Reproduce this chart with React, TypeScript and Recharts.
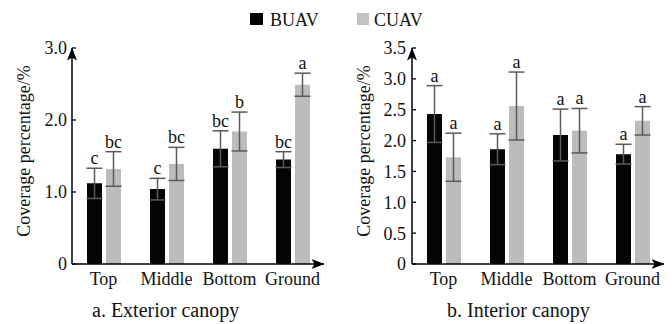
import React from 'react';
import { BarChart, Bar, XAxis, YAxis, ErrorBar, LabelList } from 'recharts';

const categories = ['Top', 'Middle', 'Bottom', 'Ground'];
const seriesNames = ['BUAV', 'CUAV'];
const seriesColors = ['#050505', '#bcbcbc'];

const exteriorBUAV = [1.12, 1.04, 1.6, 1.45];
const exteriorBUAVErr = [0.21, 0.15, 0.25, 0.11];
const exteriorBUAVLetters = ['c', 'c', 'bc', 'bc'];
const exteriorCUAV = [1.32, 1.39, 1.84, 2.49];
const exteriorCUAVErr = [0.24, 0.23, 0.27, 0.16];
const exteriorCUAVLetters = ['bc', 'bc', 'b', 'a'];

const interiorBUAV = [2.43, 1.86, 2.09, 1.78];
const interiorBUAVErr = [0.46, 0.25, 0.42, 0.16];
const interiorBUAVLetters = ['a', 'a', 'a', 'a'];
const interiorCUAV = [1.73, 2.56, 2.16, 2.32];
const interiorCUAVErr = [0.39, 0.55, 0.36, 0.23];
const interiorCUAVLetters = ['a', 'a', 'a', 'a'];

const exteriorTicks = [0, 1, 2, 3];
const exteriorTickLabels = ['0', '1.0', '2.0', '3.0'];
const interiorTicks = [0, 0.5, 1, 1.5, 2, 2.5, 3, 3.5];
const interiorTickLabels = ['0', '0.5', '1.0', '1.5', '2.0', '2.5', '3.0', '3.5'];

const yAxisTitle = 'Coverage percentage/%';
const captions = ['a. Exterior canopy', 'b. Interior canopy'];

const FONT = '"Liberation Serif", "Times New Roman", Times, serif';

function buildRows(b: number[], be: number[], c: number[], ce: number[]) {
  return categories.map((cat, i) => ({ cat, b: b[i], be: be[i], c: c[i], ce: ce[i] }));
}

const exteriorRows = buildRows(exteriorBUAV, exteriorBUAVErr, exteriorCUAV, exteriorCUAVErr);
const interiorRows = buildRows(interiorBUAV, interiorBUAVErr, interiorCUAV, interiorCUAVErr);

function makeLetterLabel(letters: string[], errs: number[]) {
  return (props: any) => {
    const vb = props.viewBox || {};
    const x = props.x ?? vb.x;
    const y = props.y ?? vb.y;
    const width = props.width ?? vb.width;
    const rawH = props.height ?? vb.height;
    const height = Math.abs(rawH);
    const value = Number(props.value);
    const index = props.index;
    if (index == null || !value) return null;
    const top = Math.min(y, y + rawH);
    const pxPerUnit = height / value;
    const errTop = top - errs[index] * pxPerUnit;
    return (
      <text
        x={x + width / 2}
        y={errTop - 4}
        textAnchor="middle"
        fontFamily={FONT}
        fontSize={18}
        fill="#111"
      >
        {letters[index]}
      </text>
    );
  };
}

function makeYTick(ticks: number[], labels: string[], margin: number) {
  return (props: any) => {
    const { x, y, payload } = props;
    const i = ticks.indexOf(payload.value);
    const ax = x + margin;
    return (
      <g>
        <line x1={ax} x2={ax + 4} y1={y} y2={y} stroke="#000" strokeWidth={1.3} />
        <text x={x} y={y} dy="0.36em" textAnchor="end" fontFamily={FONT} fontSize={18} fill="#111">
          {i >= 0 ? labels[i] : payload.value}
        </text>
      </g>
    );
  };
}

const XTick = (props: any) => {
  const { x, y, payload } = props;
  return (
    <text x={x} y={y + 21} textAnchor="middle" fontFamily={FONT} fontSize={18} fill="#111">
      {payload.value}
    </text>
  );
};

type PanelProps = {
  rows: any[];
  ticks: number[];
  tickLabels: string[];
  max: number;
  bLetters: string[];
  cLetters: string[];
  bErr: number[];
  cErr: number[];
  width: number;
  rightMargin: number;
  tickMargin: number;
};

function Panel(p: PanelProps) {
  return (
    <BarChart
      width={p.width}
      height={324}
      data={p.rows}
      margin={{ top: 48, right: p.rightMargin, bottom: 30, left: 0 }}
      barSize={15}
      barGap={4}
    >
      <XAxis
        dataKey="cat"
        height={30}
        tickLine={false}
        tickSize={0}
        tickMargin={0}
        tick={<XTick />}
        interval={0}
        axisLine={{ stroke: '#000', strokeWidth: 1.5, markerEnd: 'url(#axisArrow)' }}
      />
      <YAxis
        width={72}
        domain={[0, p.max]}
        ticks={p.ticks}
        interval={0}
        tickLine={false}
        tickSize={0}
        tickMargin={p.tickMargin}
        tick={makeYTick(p.ticks, p.tickLabels, p.tickMargin)}
        axisLine={{ stroke: '#000', strokeWidth: 1.5, markerStart: 'url(#axisArrow)' }}
      />
      <Bar dataKey="b" name={seriesNames[0]} fill={seriesColors[0]} isAnimationActive={false}>
        <ErrorBar dataKey="be" width={8} stroke="#5a5a5a" strokeWidth={1.5} isAnimationActive={false} />
        <LabelList dataKey="b" content={makeLetterLabel(p.bLetters, p.bErr)} />
      </Bar>
      <Bar dataKey="c" name={seriesNames[1]} fill={seriesColors[1]} isAnimationActive={false}>
        <ErrorBar dataKey="ce" width={8} stroke="#5a5a5a" strokeWidth={1.5} isAnimationActive={false} />
        <LabelList dataKey="c" content={makeLetterLabel(p.cLetters, p.cErr)} />
      </Bar>
    </BarChart>
  );
}

export default function App() {
  return (
    <div style={{ position: 'absolute', left: 0, top: 0, width: 672, height: 324, background: '#fff' }}>
      <div style={{ position: 'absolute', left: 0, top: 0 }}>
        <Panel
          rows={exteriorRows}
          ticks={exteriorTicks}
          tickLabels={exteriorTickLabels}
          max={3}
          bLetters={exteriorBUAVLetters}
          cLetters={exteriorCUAVLetters}
          bErr={exteriorBUAVErr}
          cErr={exteriorCUAVErr}
          width={336}
          rightMargin={12}
          tickMargin={5}
        />
      </div>
      <div style={{ position: 'absolute', left: 340, top: 0 }}>
        <Panel
          rows={interiorRows}
          ticks={interiorTicks}
          tickLabels={interiorTickLabels}
          max={3.5}
          bLetters={interiorBUAVLetters}
          cLetters={interiorCUAVLetters}
          bErr={interiorBUAVErr}
          cErr={interiorCUAVErr}
          width={332}
          rightMargin={8}
          tickMargin={6}
        />
      </div>
      <svg
        width={672}
        height={324}
        style={{ position: 'absolute', left: 0, top: 0, pointerEvents: 'none' }}
      >
        <defs>
          <marker
            id="axisArrow"
            markerUnits="userSpaceOnUse"
            markerWidth={13}
            markerHeight={10}
            viewBox="0 0 13 10"
            refX={12.5}
            refY={5}
            orient="auto-start-reverse"
          >
            <path d="M0,0 L13,5 L0,10 L3,5 Z" fill="#000" />
          </marker>
        </defs>
        <rect x={250} y={13} width={13} height={12} fill={seriesColors[0]} />
        <text x={270} y={26} fontFamily={FONT} fontSize={18} fill="#111">{seriesNames[0]}</text>
        <rect x={357} y={13} width={12} height={12} fill="#c2c2c2" />
        <text x={374} y={26} fontFamily={FONT} fontSize={18} fill="#111">{seriesNames[1]}</text>
        <text
          transform="translate(24,151) rotate(-90)"
          textAnchor="middle"
          dominantBaseline="central"
          fontFamily={FONT}
          fontSize={18}
          fill="#111"
        >
          {yAxisTitle}
        </text>
        <text
          transform="translate(364,151) rotate(-90)"
          textAnchor="middle"
          dominantBaseline="central"
          fontFamily={FONT}
          fontSize={18}
          fill="#111"
        >
          {yAxisTitle}
        </text>
        <text x={92} y={317} fontFamily={FONT} fontSize={20} fill="#111">{captions[0]}</text>
        <text x={447} y={317} fontFamily={FONT} fontSize={20} fill="#111">{captions[1]}</text>
      </svg>
    </div>
  );
}
